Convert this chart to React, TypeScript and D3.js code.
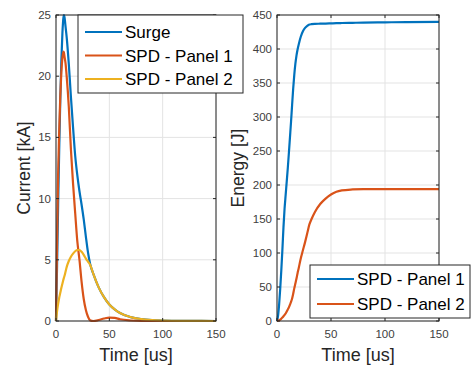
import React from 'react';
import * as d3 from 'd3';

// time samples [us]
const currentTime = [0, 1, 2, 3, 4, 5, 6, 7, 7.5, 8, 9, 10, 12, 14, 16, 18, 20, 22, 24, 26, 28, 30, 32, 35, 40, 45, 50, 55, 60, 70, 80, 90, 100, 120, 150];
const surgeCurrent = [0, 4.5, 9.5, 14, 18, 21.2, 23.5, 24.8, 25, 24.8, 24, 23.2, 21, 18.3, 15.8, 13.5, 11.9, 10.6, 9.5, 8.3, 6.9, 5.6, 4.65, 3.85, 2.75, 1.95, 1.35, 0.95, 0.65, 0.32, 0.16, 0.08, 0.04, 0.01, 0];
const spd1Current = [0, 6.5, 12, 15.5, 18.3, 20.3, 21.5, 22, 21.9, 21.6, 21, 20, 17.5, 14, 11.2, 8.8, 6.5, 5, 3.2, 1.8, 0.9, 0.35, 0.05, 0, 0.08, 0.2, 0.28, 0.25, 0.14, 0.04, 0, 0, 0, 0, 0];
const spd2Current = [0, 0.8, 1.4, 1.9, 2.3, 2.7, 3.05, 3.4, 3.55, 3.7, 4.05, 4.4, 4.9, 5.25, 5.5, 5.7, 5.8, 5.8, 5.65, 5.4, 5.1, 4.85, 4.6, 3.85, 2.75, 1.95, 1.35, 0.95, 0.65, 0.32, 0.16, 0.08, 0.04, 0.01, 0];

const energyTime = [0, 1, 2, 3, 4, 5, 6, 7, 8, 9, 10, 11, 12, 13, 14, 15, 16, 17, 18, 19, 20, 22, 24, 26, 28, 30, 32, 35, 40, 45, 50, 55, 60, 70, 80, 100, 120, 150];
const spd1Energy = [0, 8, 25, 48, 75, 105, 138, 165, 185, 205, 225, 247, 270, 293, 318, 342, 362, 378, 390, 399, 406, 418, 426, 431, 434, 436, 436.5, 437, 437.2, 437.4, 437.7, 438, 438.2, 438.5, 438.8, 439.2, 439.6, 440];
const spd2Energy = [0, 0.5, 1, 2, 3.5, 5, 7, 9, 11, 14, 17, 20, 24, 28, 33, 40, 48, 55, 62, 70, 77, 92, 104, 116, 129, 142, 150, 160, 172, 180, 186, 190, 192, 193.5, 194, 194, 194, 194];

const timeTicks = [0, 50, 100, 150];
const currentTicks = [0, 5, 10, 15, 20, 25];
const energyTicks = [0, 50, 100, 150, 200, 250, 300, 350, 400, 450];

const BLUE = '#0072BD';
const ORANGE = '#D95319';
const YELLOW = '#EDB120';
const FONT = '"Liberation Sans", Arial, sans-serif';

type Series = { name: string; t: number[]; v: number[]; color: string };

function Panel({ left, right, top, bottom, yMax, yTicks, ylabel, ylabelX, series, legend }: any) {
  const x = d3.scaleLinear().domain([0, 150]).range([left, right]);
  const y = d3.scaleLinear().domain([0, yMax]).range([bottom, top]);
  const line = d3.line<[number, number]>()
    .x(d => x(d[0]))
    .y(d => y(d[1]))
    .curve(d3.curveMonotoneX);
  const axisColor = '#262626';
  const tickLen = 3;
  return (
    <g>
      {timeTicks.map(t => (
        <line key={'gx' + t} x1={x(t)} x2={x(t)} y1={top} y2={bottom} stroke="#e3e3e3" strokeWidth={1} />
      ))}
      {yTicks.map((t: number) => (
        <line key={'gy' + t} x1={left} x2={right} y1={y(t)} y2={y(t)} stroke="#e3e3e3" strokeWidth={1} />
      ))}
      {series.map((s: Series) => (
        <path key={s.name} d={line(s.t.map((t, i) => [t, s.v[i]] as [number, number])) || ''}
          fill="none" stroke={s.color} strokeWidth={2.2} strokeLinejoin="round" />
      ))}
      <rect x={left} y={top} width={right - left} height={bottom - top} fill="none" stroke={axisColor} strokeWidth={1} />
      {timeTicks.map(t => (
        <g key={'tx' + t}>
          <line x1={x(t)} x2={x(t)} y1={bottom} y2={bottom - tickLen} stroke={axisColor} />
          <line x1={x(t)} x2={x(t)} y1={top} y2={top + tickLen} stroke={axisColor} />
          <text x={x(t)} y={bottom + 17} textAnchor="middle" fontSize={11.5} fill="#404040" fontFamily={FONT}>{t}</text>
        </g>
      ))}
      {yTicks.map((t: number) => (
        <g key={'ty' + t}>
          <line x1={left} x2={left + tickLen} y1={y(t)} y2={y(t)} stroke={axisColor} />
          <line x1={right} x2={right - tickLen} y1={y(t)} y2={y(t)} stroke={axisColor} />
          <text x={left - 5} y={y(t) + 4} textAnchor="end" fontSize={11.5} fill="#404040" fontFamily={FONT}>{t}</text>
        </g>
      ))}
      <text x={(left + right) / 2} y={361} textAnchor="middle" fontSize={18} fill="#262626" fontFamily={FONT}>Time [us]</text>
      <text transform={`translate(${ylabelX},${(top + bottom) / 2}) rotate(-90)`} textAnchor="middle" fontSize={17.5} fill="#262626" fontFamily={FONT}>{ylabel}</text>
      <g>
        <rect x={legend.x} y={legend.y} width={legend.w} height={legend.h} fill="white" stroke={axisColor} strokeWidth={1} />
        {series.map((s: Series, i: number) => {
          const ly = legend.y + legend.first + i * legend.step;
          return (
            <g key={'lg' + s.name}>
              <line x1={legend.x + 7} x2={legend.x + 44} y1={ly} y2={ly} stroke={s.color} strokeWidth={2.2} />
              <text x={legend.x + 47} y={ly + 6} fontSize={17} fill="#000" fontFamily={FONT}>{s.name}</text>
            </g>
          );
        })}
      </g>
    </g>
  );
}

export default function App() {
  const currentSeries: Series[] = [
    { name: 'Surge', t: currentTime, v: surgeCurrent, color: BLUE },
    { name: 'SPD - Panel 1', t: currentTime, v: spd1Current, color: ORANGE },
    { name: 'SPD - Panel 2', t: currentTime, v: spd2Current, color: YELLOW },
  ];
  const energySeries: Series[] = [
    { name: 'SPD - Panel 1', t: energyTime, v: spd1Energy, color: BLUE },
    { name: 'SPD - Panel 2', t: energyTime, v: spd2Energy, color: ORANGE },
  ];
  return (
    <svg width={472} height={365} style={{ position: 'absolute', left: 0, top: 0, background: 'white' }}>
      <rect width={472} height={365} fill="white" />
      <Panel left={56} right={216} top={15} bottom={321} yMax={25} yTicks={currentTicks}
        ylabel="Current [kA]" ylabelX={30} series={currentSeries}
        legend={{ x: 78, y: 15, w: 165, h: 78, first: 17, step: 23.5 }} />
      <Panel left={277} right={439} top={15} bottom={321} yMax={450} yTicks={energyTicks}
        ylabel="Energy [J]" ylabelX={244} series={energySeries}
        legend={{ x: 310, y: 265, w: 160, h: 53, first: 14, step: 25 }} />
    </svg>
  );
}
